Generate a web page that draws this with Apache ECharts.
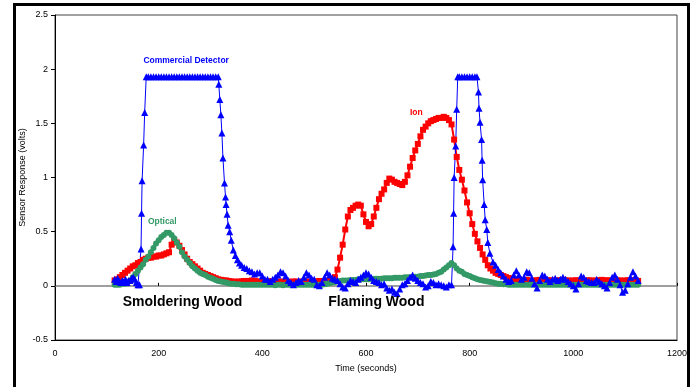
<!DOCTYPE html>
<html>
<head>
<meta charset="utf-8">
<script src="https://cdn.jsdelivr.net/npm/echarts@6/dist/echarts.min.js"></script>
<style>
  html, body { margin: 0; padding: 0; background: #fff; }
  #main { position: absolute; left: 0; top: 0; width: 693px; height: 387px; }
  #frame { position: absolute; left: 13px; top: 3px; width: 671px; height: 420px; border: 3px solid #000; pointer-events: none; }
</style>
</head>
<body>
<div id="main"></div>
<div id="frame"></div>
<script>
// sample times (s) shared by ion and optical sensors
const sampleTime = [
  115,120,125,130,135,140,145,150,155,160,
  165,170,175,180,185,190,195,200,205,210,
  215,220,225,230,235,240,245,250,255,260,
  265,270,275,280,285,290,295,300,305,310,
  315,320,325,330,335,340,345,350,355,360,
  365,370,375,380,385,390,395,400,405,410,
  415,420,425,430,435,440,445,450,455,460,
  465,470,475,480,485,490,495,500,505,510,
  515,520,525,530,535,540,545,550,555,560,
  565,570,575,580,585,590,595,600,605,610,
  615,620,625,630,635,640,645,650,655,660,
  665,670,675,680,685,690,695,700,705,710,
  715,720,725,730,735,740,745,750,755,760,
  765,770,775,780,785,790,795,800,805,810,
  815,820,825,830,835,840,845,850,855,860,
  865,870,875,880,885,890,895,900,905,910,
  915,920,925,930,935,940,945,950,955,960,
  965,970,975,980,985,990,995,1000,1005,1010,
  1015,1020,1025,1030,1035,1040,1045,1050,1055,1060,
  1065,1070,1075,1080,1085,1090,1095,1100,1105,1110,
  1115,1120,1125
];

const ionVolts = [
  0.05,0.06,0.08,0.10,0.12,0.14,0.16,0.18,0.19,0.21,
  0.22,0.24,0.25,0.26,0.26,0.27,0.27,0.28,0.28,0.29,
  0.30,0.31,0.38,0.42,0.40,0.37,0.33,0.29,0.25,0.22,
  0.20,0.18,0.16,0.14,0.12,0.11,0.10,0.09,0.08,0.07,
  0.06,0.055,0.05,0.05,0.045,0.04,0.04,0.035,0.04,0.04,
  0.045,0.04,0.045,0.05,0.045,0.04,0.04,0.04,0.035,0.04,
  0.04,0.045,0.04,0.04,0.035,0.04,0.04,0.04,0.035,0.04,
  0.04,0.035,0.04,0.04,0.04,0.035,0.04,0.04,0.04,0.045,
  0.04,0.045,0.045,0.05,0.055,0.08,0.15,0.26,0.38,0.52,
  0.64,0.70,0.72,0.74,0.75,0.74,0.66,0.59,0.55,0.57,
  0.64,0.72,0.80,0.85,0.89,0.95,0.99,0.98,0.96,0.95,
  0.94,0.93,0.96,1.02,1.10,1.18,1.25,1.31,1.38,1.44,
  1.47,1.50,1.52,1.53,1.54,1.55,1.55,1.56,1.55,1.53,
  1.49,1.35,1.19,1.07,0.98,0.88,0.77,0.67,0.57,0.48,
  0.41,0.35,0.29,0.24,0.19,0.16,0.14,0.12,0.11,0.10,
  0.09,0.08,0.07,0.07,0.06,0.06,0.055,0.05,0.05,0.055,
  0.05,0.045,0.05,0.05,0.055,0.05,0.045,0.05,0.05,0.05,
  0.045,0.05,0.05,0.055,0.05,0.05,0.045,0.05,0.05,0.05,
  0.05,0.045,0.05,0.05,0.05,0.045,0.05,0.05,0.055,0.05,
  0.05,0.05,0.045,0.05,0.05,0.05,0.045,0.05,0.05,0.05,
  0.05,0.05,0.045
];

const opticalVolts = [
  0.01,0.01,0.01,0.02,0.02,0.03,0.05,0.08,0.11,0.14,
  0.17,0.20,0.24,0.27,0.31,0.35,0.39,0.42,0.45,0.47,
  0.49,0.49,0.47,0.44,0.40,0.36,0.31,0.27,0.24,0.21,
  0.18,0.16,0.14,0.12,0.11,0.10,0.085,0.075,0.065,0.055,
  0.045,0.04,0.035,0.03,0.025,0.02,0.02,0.015,0.015,0.01,
  0.01,0.01,0.01,0.01,0.01,0.01,0.01,0.01,0.01,0.01,
  0.01,0.01,0.005,0.01,0.01,0.005,0.01,0.01,0.01,0.01,
  0.01,0.01,0.01,0.01,0.01,0.01,0.01,0.01,0.01,0.01,
  0.01,0.015,0.02,0.025,0.03,0.035,0.04,0.045,0.05,0.05,
  0.05,0.055,0.055,0.055,0.06,0.06,0.06,0.06,0.06,0.06,
  0.065,0.065,0.065,0.065,0.07,0.07,0.07,0.07,0.075,0.075,
  0.075,0.075,0.08,0.08,0.08,0.08,0.085,0.085,0.09,0.09,
  0.095,0.10,0.10,0.105,0.11,0.12,0.13,0.15,0.17,0.19,
  0.21,0.19,0.16,0.14,0.13,0.11,0.10,0.09,0.08,0.07,
  0.06,0.055,0.05,0.045,0.04,0.035,0.03,0.025,0.02,0.02,
  0.015,0.015,0.01,0.01,0.01,0.01,0.01,0.01,0.01,0.01,
  0.01,0.01,0.01,0.01,0.01,0.01,0.01,0.01,0.01,0.01,
  0.01,0.01,0.01,0.01,0.01,0.01,0.01,0.01,0.01,0.01,
  0.01,0.01,0.01,0.01,0.01,0.01,0.01,0.01,0.01,0.01,
  0.01,0.01,0.01,0.01,0.01,0.01,0.01,0.01,0.01,0.01,
  0.01,0.01,0.01
];

// commercial detector has its own (uneven) sample times
const detectorTime = [
  115,118,121,124,127,130,133,136,139,142,
  145,148,151,154,157,160,163,166,167,168,
  171,173,176,180,185,190,195,200,205,210,
  215,220,225,230,235,240,245,250,255,260,
  265,270,275,280,285,290,295,300,305,310,
  315,316,318,320,322,324,327,329,330,332,
  334,337,340,344,348,352,356,360,365,370,
  375,380,385,390,395,400,405,410,415,420,
  425,430,435,440,445,450,455,460,465,470,
  475,480,485,490,495,500,505,510,515,520,
  525,530,535,540,545,550,555,560,565,570,
  575,580,585,590,595,600,605,610,615,620,
  625,630,635,640,645,650,655,660,665,670,
  675,680,685,690,695,700,705,710,715,720,
  725,730,735,740,745,750,755,760,765,768,
  769,770,773,775,777,780,785,790,795,800,
  805,810,814,817,818,820,823,824,825,828,
  830,833,835,839,845,850,855,860,865,870,
  875,880,885,890,895,900,905,910,915,920,
  925,930,935,940,945,950,955,960,965,970,
  975,980,985,990,995,1000,1005,1010,1015,1020,
  1025,1030,1035,1040,1045,1050,1055,1060,1065,1070,
  1075,1080,1085,1090,1095,1100,1105,1110,1115,1120,
  1125
];

const detectorVolts = [
  0.06,0.04,0.07,0.04,0.03,0.05,0.04,0.06,0.03,0.05,
  0.05,0.07,0.08,0.06,0.03,0.01,0.01,0.34,0.67,0.97,
  1.30,1.60,1.93,1.93,1.93,1.93,1.93,1.93,1.93,1.93,
  1.93,1.93,1.93,1.93,1.93,1.93,1.93,1.93,1.93,1.93,
  1.93,1.93,1.93,1.93,1.93,1.93,1.93,1.93,1.93,1.93,
  1.93,1.86,1.72,1.58,1.41,1.18,0.95,0.82,0.75,0.66,
  0.56,0.50,0.42,0.33,0.28,0.24,0.21,0.19,0.17,0.16,
  0.14,0.13,0.11,0.12,0.12,0.09,0.06,0.06,0.04,0.06,
  0.08,0.10,0.13,0.12,0.09,0.05,0.03,0.01,0.03,0.05,
  0.04,0.08,0.12,0.10,0.07,0.06,0.01,0.00,0.03,0.08,
  0.12,0.10,0.07,0.06,0.05,0.02,-0.01,-0.02,0.02,0.05,
  0.04,0.03,0.06,0.08,0.10,0.12,0.11,0.08,0.05,0.04,
  0.03,0.01,0.02,-0.02,-0.04,-0.03,-0.06,-0.07,-0.03,0.01,
  0.02,0.05,0.08,0.10,0.07,0.05,0.03,0.02,-0.01,0.00,
  0.04,0.03,0.01,0.02,0.01,0.00,-0.01,0.01,0.01,0.36,
  0.67,1.00,1.29,1.63,1.93,1.93,1.93,1.93,1.93,1.93,
  1.93,1.93,1.93,1.79,1.64,1.51,1.35,1.16,0.98,0.75,
  0.61,0.52,0.40,0.30,0.22,0.19,0.15,0.12,0.09,0.06,
  0.04,0.05,0.10,0.14,0.10,0.06,0.08,0.13,0.12,0.07,
  0.02,-0.02,0.05,0.10,0.09,0.06,0.04,0.06,0.07,0.05,
  0.06,0.08,0.06,0.04,0.02,0.00,-0.03,0.02,0.09,0.08,
  0.05,0.04,0.03,0.03,0.06,0.04,0.02,0.00,-0.02,0.03,
  0.08,0.10,0.06,0.01,-0.06,-0.04,0.02,0.08,0.13,0.09,
  0.05
];

const toPairs = (ts, vs) => ts.map((t, i) => [t, vs[i]]);

const font = 'Liberation Sans, Arial, sans-serif';

// text label placed in data coordinates (invisible 1px symbol carries the label)
function note(text, t, v, color, size) {
  return {
    coord: [t, v],
    symbol: 'circle',
    symbolSize: 1,
    itemStyle: { color: 'rgba(0,0,0,0)' },
    label: { show: true, position: 'inside', formatter: text, color: color,
             fontFamily: font, fontWeight: 'bold', fontSize: size }
  };
}

const chart = echarts.init(document.getElementById('main'));
chart.setOption({
  animation: false,
  textStyle: { fontFamily: font },
  grid: { left: 55, right: 16, top: 15, bottom: 47, show: true, borderColor: '#444', borderWidth: 1 },
  xAxis: [
    {
      type: 'value', min: 0, max: 1200, interval: 200,
      name: 'Time (seconds)', nameLocation: 'middle', nameGap: 24,
      nameTextStyle: { fontSize: 9, color: '#000', fontFamily: font },
      axisLine: { onZero: false, lineStyle: { color: '#000', width: 1 } },
      axisTick: { show: false },
      axisLabel: { fontSize: 9, color: '#000', margin: 9, fontFamily: font,
                   formatter: v => String(v) },
      splitLine: { show: false }
    },
    {
      type: 'value', min: 0, max: 1200, interval: 200, position: 'top',
      axisLine: { onZero: true, lineStyle: { color: '#808080', width: 1.5 } },
      axisTick: { show: true, length: 3, lineStyle: { color: '#000' } },
      axisLabel: { show: false },
      splitLine: { show: false }
    }
  ],
  yAxis: {
    type: 'value', min: -0.5, max: 2.5, interval: 0.5,
    name: 'Sensor Response (volts)', nameLocation: 'middle', nameGap: 28,
    nameMoveOverlap: false,
    nameTextStyle: { fontSize: 9, color: '#000', fontFamily: font },
    axisLine: { show: true, lineStyle: { color: '#000', width: 1 } },
    axisTick: { show: true, length: 4, lineStyle: { color: '#000' } },
    axisLabel: { fontSize: 9, color: '#000', margin: 7, fontFamily: font },
    splitLine: { show: false }
  },
  series: [
    {
      name: 'Ion', type: 'line', data: toPairs(sampleTime, ionVolts),
      symbol: 'rect', symbolSize: 6,
      itemStyle: { color: '#ff0000' }, lineStyle: { color: '#ff0000', width: 2 },
      markPoint: { data: [note('Ion', 697, 1.6, '#ff0000', 8.5)] }
    },
    {
      name: 'Optical', type: 'line', data: toPairs(sampleTime, opticalVolts),
      symbol: 'circle', symbolSize: 6,
      itemStyle: { color: '#339966' }, lineStyle: { color: '#339966', width: 3 },
      markPoint: { data: [note('Optical', 207, 0.59, '#339966', 8.5)] }
    },
    {
      name: 'Commercial Detector', type: 'line', data: toPairs(detectorTime, detectorVolts),
      symbol: 'triangle', symbolSize: 7,
      itemStyle: { color: '#0000ff' }, lineStyle: { color: '#0000ff', width: 1 },
      markPoint: { data: [
        note('Commercial Detector', 253, 2.08, '#0000ff', 8.5),
        note('Smoldering Wood', 246, -0.15, '#000', 14),
        note('Flaming Wood', 620, -0.15, '#000', 14)
      ] }
    }
  ]
});
</script>
</body>
</html>
